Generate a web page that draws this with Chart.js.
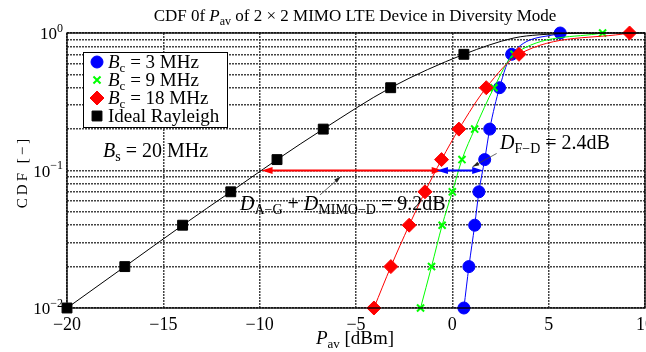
<!DOCTYPE html>
<html>
<head>
<meta charset="utf-8">
<script src="https://cdn.jsdelivr.net/npm/chart.js@4.4.0/dist/chart.umd.min.js"></script>
<style>
  body { margin: 0; background: #fff; }
  canvas { display: block; }
</style>
</head>
<body>
<canvas id="cdfChart" width="646" height="352"></canvas>
<script>
// CDF levels shared by all marker sets
const cdfLevels = [0.01, 0.02, 0.04, 0.07, 0.12, 0.2, 0.4, 0.7, 1.0];

// P_av [dBm]
const pav3MHz = [0.6, 0.86, 1.16, 1.38, 1.68, 1.94, 2.45, 3.08, 5.6];
const pav9MHz = [-1.65, -1.08, -0.53, 0.0, 0.5, 1.16, 2.16, 3.2, 7.8];
const pav18MHz = [-4.07, -3.19, -2.24, -1.42, -0.56, 0.34, 1.76, 3.46, 9.2];

// ideal Rayleigh: markers and the rest of the curve
const rayleighX = [-20, -17, -14, -11.5, -9.1, -6.7, -3.2, 0.6];
const rayleighY = [0.01, 0.02, 0.04, 0.07, 0.12, 0.2, 0.4, 0.7];
const rayleighTailX = [3.2, 4.5, 6.5, 10];
const rayleighTailY = [0.92, 0.97, 0.995, 1.0];

const xTicks = [-20, -15, -10, -5, 0, 5, 10];
const yGrid = [0.01, 0.02, 0.03, 0.04, 0.05, 0.06, 0.07, 0.08, 0.09,
               0.1, 0.2, 0.3, 0.4, 0.5, 0.6, 0.7, 0.8, 0.9, 1];
const yMajor = [[1, '0'], [0.1, '\u22121'], [0.01, '\u22122']];

const FONT = '"Liberation Serif", "DejaVu Serif", serif';

function pts(xs, ys) {
    return xs.map((x, i) => ({ x: x, y: ys[i] }));
}

// text pieces: [text, kind] with kind r = roman, i = italic, s = subscript, u = superscript
function fontFor(kind, size) {
    if (kind === 'i') return 'italic ' + size + 'px ' + FONT;
    if (kind === 's' || kind === 'u') return Math.round(size * 0.7) + 'px ' + FONT;
    return size + 'px ' + FONT;
}
function richWidth(ctx, parts, size) {
    let w = 0;
    parts.forEach(p => {
        ctx.font = fontFor(p[1], size);
        w += ctx.measureText(p[0]).width;
    });
    return w;
}
function drawRich(ctx, parts, x, y, size, align) {
    const w = richWidth(ctx, parts, size);
    let cx = x;
    if (align === 'center') cx = x - w / 2;
    if (align === 'right') cx = x - w;
    ctx.textBaseline = 'alphabetic';
    ctx.textAlign = 'left';
    parts.forEach(p => {
        ctx.font = fontFor(p[1], size);
        let dy = 0;
        if (p[1] === 's') dy = size * 0.22;
        if (p[1] === 'u') dy = -size * 0.42;
        ctx.fillText(p[0], cx, y + dy);
        cx += ctx.measureText(p[0]).width;
    });
}

function arrowHead(ctx, x, y, dir, len, half, color) {
    ctx.fillStyle = color;
    ctx.beginPath();
    ctx.moveTo(x, y);
    ctx.lineTo(x - dir * len, y - half);
    ctx.lineTo(x - dir * len, y + half);
    ctx.closePath();
    ctx.fill();
}

const decorations = {
    id: 'decorations',
    afterDatasetsDraw(chart) {
        const ctx = chart.ctx;
        const xs = chart.scales.x, ys = chart.scales.y;
        const px = v => xs.getPixelForValue(v);
        const py = v => ys.getPixelForValue(v);
        ctx.save();

        // double arrows at CDF = 0.1
        const yArr = py(0.1);
        ctx.lineWidth = 2;
        ctx.strokeStyle = '#ff0000';
        ctx.beginPath();
        ctx.moveTo(px(-9.9) + 6, yArr);
        ctx.lineTo(px(-0.5) - 6, yArr);
        ctx.stroke();
        arrowHead(ctx, px(-9.9), yArr, -1, 11, 3.5, '#ff0000');
        arrowHead(ctx, px(-0.5), yArr, 1, 11, 3.5, '#ff0000');

        ctx.strokeStyle = '#0000ff';
        ctx.beginPath();
        ctx.moveTo(px(-0.8) + 6, yArr);
        ctx.lineTo(px(1.6) - 6, yArr);
        ctx.stroke();
        arrowHead(ctx, px(-0.8), yArr, -1, 11, 3.5, '#0000ff');
        arrowHead(ctx, px(1.6), yArr, 1, 11, 3.5, '#0000ff');

        // thin pointers
        function pointer(x1, y1, x2, y2) {
            const ax = px(x1), ay = py(y1), bx = px(x2), by = py(y2);
            ctx.strokeStyle = '#444';
            ctx.lineWidth = 0.8;
            ctx.beginPath();
            ctx.moveTo(ax, ay);
            ctx.lineTo(bx, by);
            ctx.stroke();
            const a = Math.atan2(by - ay, bx - ax);
            ctx.fillStyle = '#222';
            ctx.beginPath();
            ctx.moveTo(bx, by);
            ctx.lineTo(bx - 7 * Math.cos(a - 0.3), by - 7 * Math.sin(a - 0.3));
            ctx.lineTo(bx - 7 * Math.cos(a + 0.3), by - 7 * Math.sin(a + 0.3));
            ctx.closePath();
            ctx.fill();
        }
        pointer(2.3, 0.133, 1.05, 0.1066);
        pointer(-6.87, 0.0664, -5.8, 0.0901);

        ctx.fillStyle = '#000';
        drawRich(ctx, [['B', 'i'], ['s', 's'], [' = 20 MHz', 'r']], 103, 157, 20, 'left');
        drawRich(ctx, [['D', 'i'], ['F\u2212D', 's'], [' = 2.4dB', 'r']], 500, 149, 20, 'left');
        drawRich(ctx, [['D', 'i'], ['A\u2212G', 's'], [' + ', 'r'], ['D', 'i'], ['MIMO\u2212D', 's'], [' = 9.2dB', 'r']],
            240, 210, 20, 'left');
        ctx.restore();
    },
    afterDraw(chart) {
        const ctx = chart.ctx;
        const a = chart.chartArea;
        const xs = chart.scales.x, ys = chart.scales.y;
        ctx.save();

        // plot box
        ctx.strokeStyle = '#000';
        ctx.lineWidth = 1.3;
        ctx.strokeRect(a.left, a.top, a.right - a.left, a.bottom - a.top);

        // tick labels
        ctx.fillStyle = '#000';
        xTicks.forEach(v => {
            const t = v < 0 ? '\u2212' + Math.abs(v) : String(v);
            drawRich(ctx, [[t, 'r']], xs.getPixelForValue(v), 330, 18, 'center');
        });
        yMajor.forEach(m => {
            const y = ys.getPixelForValue(m[0]);
            drawRich(ctx, [['10', 'r'], [m[1], 'u']], 63, y + 6, 17, 'right');
        });

        // titles
        drawRich(ctx, [['CDF 0f ', 'r'], ['P', 'i'], ['av', 's'], [' of 2 \u00d7 2 MIMO LTE Device in Diversity Mode', 'r']],
            355, 21, 17, 'center');
        drawRich(ctx, [['P', 'i'], ['av', 's'], [' [dBm]', 'r']], 355, 344, 19, 'center');
        ctx.save();
        ctx.translate(27, 172);
        ctx.rotate(-Math.PI / 2);
        ctx.font = '15px ' + FONT;
        ctx.textAlign = 'center';
        ctx.textBaseline = 'alphabetic';
        if ('letterSpacing' in ctx) ctx.letterSpacing = '3px';
        ctx.fillText('CDF [\u2212]', 0, 0);
        ctx.restore();

        // legend
        const lx = 83, ly = 52, lw = 144, lh = 75;
        ctx.fillStyle = '#fff';
        ctx.fillRect(lx, ly, lw, lh);
        ctx.strokeStyle = '#000';
        ctx.lineWidth = 1;
        ctx.strokeRect(lx + 0.5, ly + 0.5, lw, lh);
        const items = [
            { style: 'circle', color: '#0000ff', r: 6, text: [['B', 'i'], ['c', 's'], [' = 3 MHz', 'r']] },
            { style: 'crossRot', color: '#00ff00', r: 5, text: [['B', 'i'], ['c', 's'], [' = 9 MHz', 'r']] },
            { style: 'rectRot', color: '#ff0000', r: 7, text: [['B', 'i'], ['c', 's'], [' = 18 MHz', 'r']] },
            { style: 'rect', color: '#000000', r: 7, text: [['Ideal Rayleigh', 'r']] }
        ];
        items.forEach((it, i) => {
            const cy = 62 + i * 18;
            ctx.fillStyle = it.color;
            ctx.strokeStyle = it.color;
            ctx.lineWidth = it.style === 'crossRot' ? 2 : 1;
            Chart.helpers.drawPoint(ctx, { pointStyle: it.style, radius: it.r, borderWidth: ctx.lineWidth, rotation: 0 }, 97, cy);
            ctx.fillStyle = '#000';
            drawRich(ctx, it.text, 108, cy + 6, 19, 'left');
        });
        ctx.restore();
    }
};

const lineBase = {
    showLine: true,
    borderWidth: 1,
    cubicInterpolationMode: 'monotone',
    clip: false
};

new Chart(document.getElementById('cdfChart'), {
    type: 'line',
    data: {
        datasets: [
            Object.assign({}, lineBase, {
                label: 'Ideal Rayleigh curve',
                data: pts(rayleighX.concat(rayleighTailX), rayleighY.concat(rayleighTailY)),
                borderColor: '#000', pointRadius: 0
            }),
            Object.assign({}, lineBase, {
                label: 'Ideal Rayleigh',
                data: pts(rayleighX, rayleighY),
                showLine: false,
                pointStyle: 'rect', pointRadius: 7,
                backgroundColor: '#000', borderColor: '#000'
            }),
            Object.assign({}, lineBase, {
                label: 'Bc = 18 MHz',
                data: pts(pav18MHz, cdfLevels),
                borderColor: '#ff0000', backgroundColor: '#ff0000',
                pointStyle: 'rectRot', pointRadius: 7
            }),
            Object.assign({}, lineBase, {
                label: 'Bc = 9 MHz',
                data: pts(pav9MHz, cdfLevels),
                borderColor: '#00ff00', backgroundColor: '#00ff00',
                pointStyle: 'crossRot', pointRadius: 5, pointBorderWidth: 2
            }),
            Object.assign({}, lineBase, {
                label: 'Bc = 3 MHz',
                data: pts(pav3MHz, cdfLevels),
                borderColor: '#0000ff', backgroundColor: '#0000ff',
                pointStyle: 'circle', pointRadius: 6
            })
        ]
    },
    options: {
        responsive: false,
        animation: false,
        layout: { autoPadding: false, padding: { left: 67, right: 1, top: 33, bottom: 44 } },
        plugins: { legend: { display: false }, tooltip: { enabled: false } },
        scales: {
            x: {
                type: 'linear', min: -20, max: 10,
                ticks: { display: false, stepSize: 5 },
                grid: { color: '#444', lineWidth: 1.5, drawTicks: false },
                border: { display: false, dash: [2, 1] }
            },
            y: {
                type: 'logarithmic', min: 0.01, max: 1,
                afterBuildTicks: s => { s.ticks = yGrid.map(v => ({ value: v })); },
                ticks: { display: false },
                grid: { color: '#444', lineWidth: 1.5, drawTicks: false },
                border: { display: false, dash: [2, 1] }
            }
        }
    },
    plugins: [decorations]
});
</script>
</body>
</html>
